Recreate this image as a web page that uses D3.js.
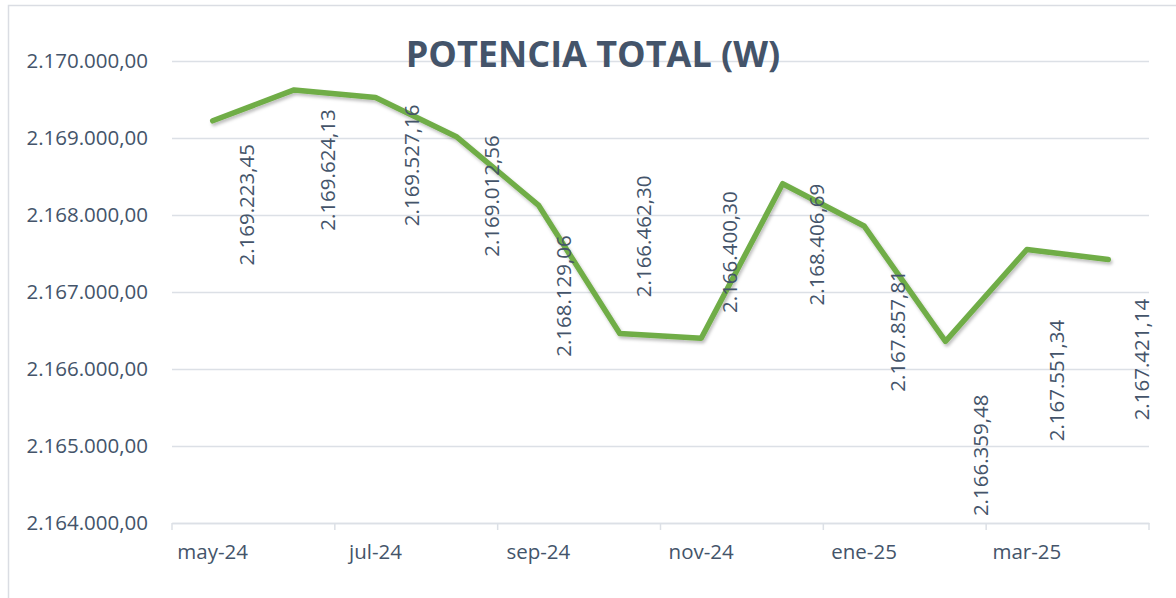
<!DOCTYPE html>
<html><head><meta charset="utf-8">
<script src="https://cdn.jsdelivr.net/npm/d3@7"></script>
<style>
html,body{margin:0;padding:0;background:#fff;}
svg{display:block;font-family:"Open Sans",sans-serif;}
</style></head>
<body>
<script>
// ---- data ----
const months = ["may-24","jun-24","jul-24","ago-24","sep-24","oct-24","nov-24","dic-24","ene-25","feb-25","mar-25","abr-25"];
const potencia = [2169223.45,2169624.13,2169527.16,2169012.56,2168129.06,2166462.30,2166400.30,2168406.69,2167857.81,2166359.48,2167551.34,2167421.14];
const yTicks = [2164000,2165000,2166000,2167000,2168000,2169000,2170000];
const xTickLabels = ["may-24","jul-24","sep-24","nov-24","ene-25","mar-25"];
const title = "POTENCIA TOTAL (W)";

// ---- layout (label offsets from the point, px) ----
const labelDx = [34,34,36,35,25,24,29,34,34,35,30,34];
const labelDy = [84,80,68,59,91,-97,-86,61,105,114,131,100];

const W = 1176, H = 598;
const m = {left:172, right:W-1149, top:61, bottom:H-523};
const textCol = "#44546A", gridCol = "#DCE0E6", green = "#70AD47";
const fs = "20.5px";

const svg = d3.select("body").append("svg").attr("width",W).attr("height",H);
const defs = svg.append("defs");
const f = defs.append("filter").attr("id","sh").attr("x","-10%").attr("y","-10%").attr("width","120%").attr("height","140%");
f.append("feDropShadow").attr("dx",1.5).attr("dy",2.5).attr("stdDeviation",1.5).attr("flood-color","#000").attr("flood-opacity",0.25);

// frame
svg.append("rect").attr("x",8.5).attr("y",5.5).attr("width",1300).attr("height",700)
  .attr("fill","none").attr("stroke","#DADDE3").attr("stroke-width",1.5);

const x = d3.scaleBand().domain(months).range([m.left, W-m.right]);
const y = d3.scaleLinear().domain([2164000,2170000]).range([H-m.bottom, m.top]);

const fmt = d3.formatLocale({decimal:",",thousands:".",grouping:[3],currency:["",""]}).format(",.2f");

// gridlines + y labels
const yAxis = d3.axisLeft(y).tickValues(yTicks).tickSize(-(W-m.left-m.right)).tickPadding(24).tickFormat(fmt);
const gy = svg.append("g").attr("transform",`translate(${m.left},0)`).call(yAxis);
gy.select(".domain").remove();
gy.selectAll(".tick line").attr("stroke",gridCol).attr("stroke-width",1.5);
gy.selectAll(".tick text").attr("fill",textCol).style("font-size",fs).style("font-family","'Open Sans',sans-serif");

// x axis
const xAxis = d3.axisBottom(x).tickValues(xTickLabels).tickSize(0).tickPadding(21);
const gx = svg.append("g").attr("transform",`translate(0,${H-m.bottom})`).call(xAxis);
gx.select(".domain").attr("stroke",gridCol).attr("stroke-width",1.5);
gx.selectAll(".tick text").attr("fill",textCol).style("font-size",fs).style("font-family","'Open Sans',sans-serif");
// tick marks every two categories at band boundaries
const boundaries = months.filter((d,i)=>i%2===0).map(d=>x(d)).concat([x(months[months.length-1])+x.bandwidth()]);
gx.selectAll("line.tk").data(boundaries).join("line").attr("class","tk")
  .attr("x1",d=>d).attr("x2",d=>d).attr("y1",0).attr("y2",7)
  .attr("stroke",gridCol).attr("stroke-width",1.5);

// line
const line = d3.line().x((d,i)=>x(months[i])+x.bandwidth()/2).y(d=>y(d));
svg.append("path").datum(potencia).attr("d",line)
  .attr("fill","none").attr("stroke",green).attr("stroke-width",5.5)
  .attr("stroke-linejoin","round").attr("stroke-linecap","round").attr("filter","url(#sh)");

// data labels (rotated)
svg.append("g").selectAll("text").data(potencia).join("text")
  .attr("transform",(d,i)=>`translate(${x(months[i])+x.bandwidth()/2+labelDx[i]},${y(d)+labelDy[i]}) rotate(-90)`)
  .attr("text-anchor","middle").attr("dy","0.35em")
  .attr("fill",textCol).style("font-size",fs)
  .text(d=>fmt(d));

// title
svg.append("text").attr("x",593).attr("y",67).attr("text-anchor","middle")
  .attr("fill",textCol).style("font-size","36px").style("font-weight","700")
  .text(title);
</script>
</body></html>
